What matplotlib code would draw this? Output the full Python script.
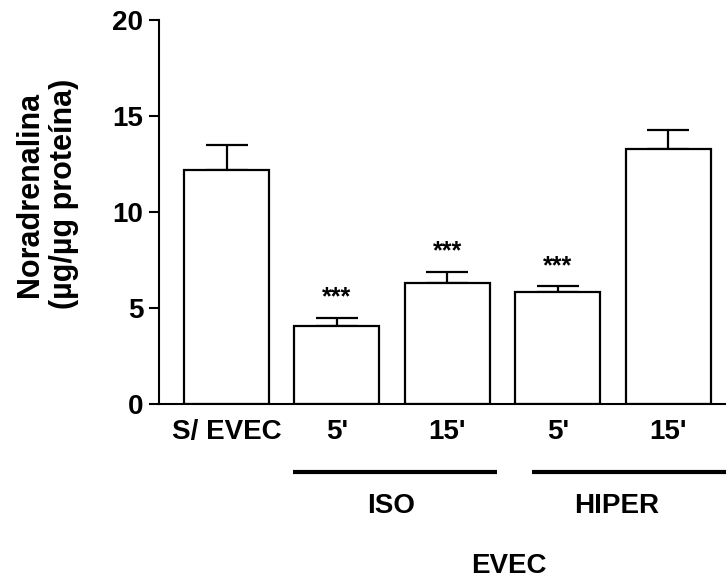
import numpy as np
import matplotlib
matplotlib.use("Agg")
import matplotlib.pyplot as plt

plt.rcParams['font.family'] = ['Liberation Sans', 'DejaVu Sans']
plt.rcParams['font.weight'] = 'bold'

# noradrenalina por grupo (media + EPM)
grupos = ["S/ EVEC", "5'", "15'", "5'", "15'"]
media = [12.2, 4.05, 6.3, 5.85, 13.3]
epm = [1.3, 0.45, 0.6, 0.28, 0.97]
signif = ["", "***", "***", "***", ""]

# subgrupos da evec: (rotulo, inicio da linha, fim da linha, centro do rotulo)
subgrupos = [("ISO", 0.605, 2.453, 1.49), ("HIPER", 2.765, 4.6, 3.53)]

fig = plt.figure(figsize=(7.26, 5.78), dpi=100)
ax = fig.add_axes([158.5/726, 1 - 404/578, 1 - 158.5/726, (404 - 20)/578])

x = np.arange(len(grupos))
ax.bar(x, media, width=0.77, color='white', edgecolor='black', linewidth=1.6, zorder=2)
ax.errorbar(x, media, yerr=[np.zeros(len(epm)), epm], fmt='none', ecolor='black',
            elinewidth=1.6, capsize=15, capthick=1.6, zorder=1)

for xi, m, e, s in zip(x, media, epm, signif):
    if s:
        ax.text(xi, m + e + 0.7, s, ha='center', va='baseline', fontsize=18, fontweight='bold')

ax.set_xlim(-0.616, 4.524)
ax.set_ylim(0, 20)
ax.set_yticks([0, 5, 10, 15, 20])
ax.set_xticks(x)
ax.set_xticklabels(grupos)
ax.tick_params(axis='y', length=7, width=1.5, pad=4, labelsize=20)
ax.tick_params(axis='x', length=0, pad=11, labelsize=20)
for lab in ax.get_xticklabels() + ax.get_yticklabels():
    lab.set_fontweight('bold')

ax.spines['top'].set_visible(False)
ax.spines['right'].set_visible(False)
ax.spines['left'].set_linewidth(1.5)
ax.spines['bottom'].set_linewidth(1.5)

# linhas e rotulos dos subgrupos abaixo do eixo
for nome, x0, x1, xc in subgrupos:
    ax.plot([x0, x1], [-3.55, -3.55], color='black', linewidth=3, clip_on=False,
            solid_capstyle='butt')
    ax.text(xc, -5.3, nome, ha='center', va='center', fontsize=20,
            fontweight='bold', clip_on=False)

ax.text(2.56, -8.45, "EVEC", ha='center', va='center', fontsize=20, fontweight='bold',
        clip_on=False)

fig.text(47/726, 1 - 194/578, "Noradrenalina\n(µg/µg proteína)", rotation=90,
         ha='center', va='center', fontsize=22, fontweight='bold', linespacing=1.2,
         multialignment='center')

fig.savefig("out.png", dpi=100)
